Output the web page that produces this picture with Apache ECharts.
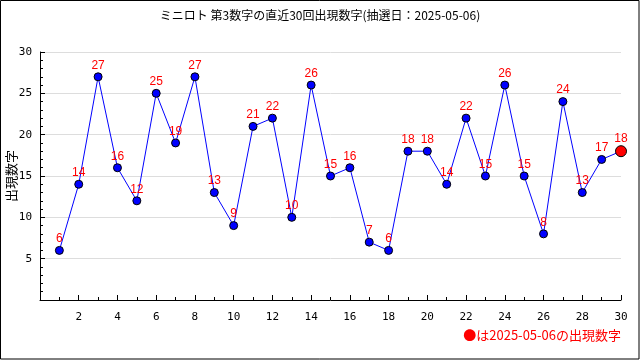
<!DOCTYPE html>
<html><head><meta charset="utf-8">
<script src="https://cdn.jsdelivr.net/npm/echarts@6/dist/echarts.min.js"></script>
<style>html,body{margin:0;padding:0;background:#fff}#c{width:640px;height:360px}</style>
</head><body><div id="c"></div>
<script>
const draws = [1,2,3,4,5,6,7,8,9,10,11,12,13,14,15,16,17,18,19,20,21,22,23,24,25,26,27,28,29,30];
const values = [6,14,27,16,12,25,19,27,13,9,21,22,10,26,15,16,7,6,18,18,14,22,15,26,15,8,24,13,17,18];
const titleText = 'ミニロト 第3数字の直近30回出現数字(抽選日：2025-05-06)';
const yName = '出現数字';
const noteText = '●は2025-05-06の出現数字';

const chart = echarts.init(document.getElementById('c'), null, {renderer:'canvas'});
const data = values.map((v,i)=>{
  const last = i === values.length-1;
  return {
    value:[draws[i], v],
    symbolSize: last ? 11 : 8,
    itemStyle: last ? {color:'#ff0000', borderColor:'#000', borderWidth:1} : {color:'#0000ff', borderColor:'#000', borderWidth:1}
  };
});
const font = '"Noto Sans CJK JP", sans-serif';
chart.setOption({
  animation:false,
  title:{text:titleText, left:'center', top:4, textStyle:{fontSize:12, fontWeight:'normal', color:'#000', fontFamily:font}},
  grid:{left:40, right:19, top:52, bottom:60, containLabel:false, outerBoundsMode:'none'},
  xAxis:{type:'value', min:0, max:30, interval:2,
    axisLine:{lineStyle:{color:'#000', width:1}},
    axisTick:{inside:true, length:5, lineStyle:{color:'#000'}},
    minorTick:{show:true, splitNumber:2, length:3, lineStyle:{color:'#000'}},
    axisLabel:{color:'#000', fontSize:11, fontFamily:'"DejaVu Sans Mono", monospace', margin:12, formatter:v=> v===0?'':String(v)},
    splitLine:{show:false}},
  yAxis:{type:'value', min:0, max:30, interval:5, name:yName, nameLocation:'middle', nameGap:22, nameRotate:90, nameMoveOverlap:false,
    nameTextStyle:{fontSize:13, color:'#000', fontFamily:font},
    axisLine:{show:true, lineStyle:{color:'#000', width:1}},
    axisTick:{show:true, inside:true, length:5, lineStyle:{color:'#000'}},
    minorTick:{show:true, splitNumber:5, length:3, lineStyle:{color:'#000'}},
    axisLabel:{color:'#000', fontSize:11, fontFamily:'"DejaVu Sans Mono", monospace', margin:8, formatter:v=> v===0?'':String(v)},
    splitLine:{show:true, lineStyle:{color:'#dddddd', width:1}}},
  series:[{type:'line', data:data, symbol:'circle',
    lineStyle:{color:'#0000ff', width:1},
    label:{show:true, position:'top', distance:1, color:'#ff0000', fontSize:12, fontFamily:'"Liberation Sans", sans-serif', formatter:p=>p.value[1]}}],
  graphic:[
    {type:'rect', shape:{x:0.5, y:0.5, width:638.5, height:358.5}, style:{fill:'none', stroke:'#000', lineWidth:1}, silent:true},
    {type:'text', right:19, top:329, style:{text:noteText, fill:'#ff0000', fontSize:13, fontFamily:font}}
  ]
});
</script></body></html>
